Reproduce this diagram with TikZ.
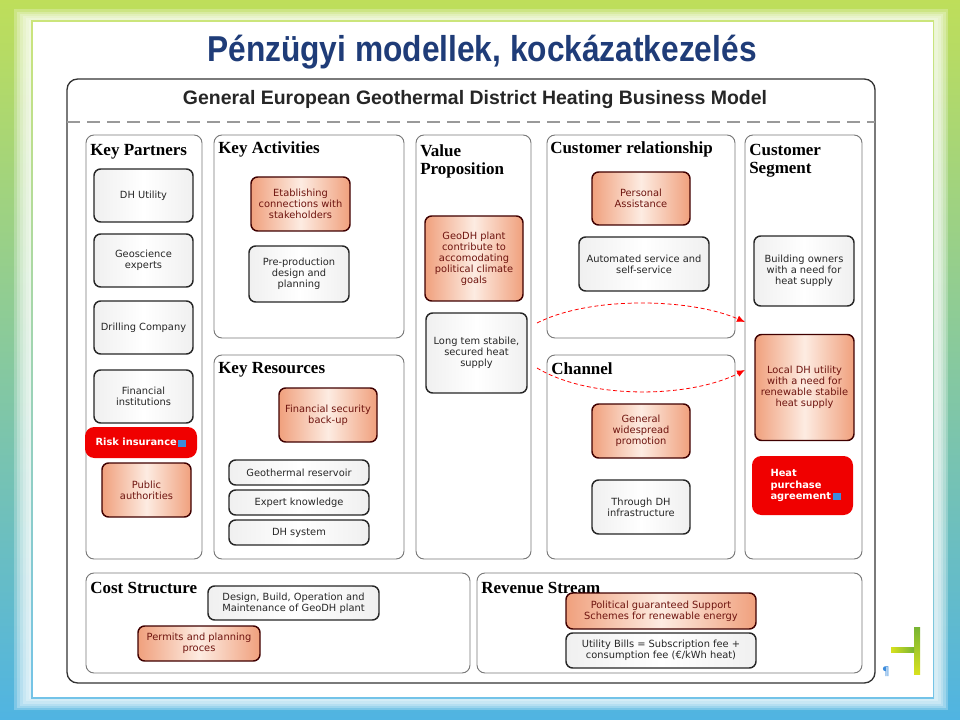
\documentclass[tikz,border=0pt]{standalone}
\usepackage{fontspec}
\setsansfont{DejaVu Sans}
\setmainfont{Liberation Serif}
\newfontfamily\slidefont[FakeStretch=0.88]{Liberation Sans}
\newfontfamily\modelfont{Liberation Sans}
\usetikzlibrary{arrows.meta}

\definecolor{titleblue}{RGB}{31,60,120}
\definecolor{framegreen}{RGB}{190,222,90}
\definecolor{frameblue}{RGB}{80,180,226}
\definecolor{peach}{RGB}{240,160,125}
\definecolor{peachlight}{RGB}{253,236,226}
\definecolor{peachtext}{RGB}{110,20,15}
\definecolor{riskred}{RGB}{240,0,0}
\definecolor{panelgray}{RGB}{120,120,120}
\definecolor{iconblue}{RGB}{60,140,220}
\definecolor{logogreen}{RGB}{120,180,50}
\definecolor{logoyellow}{RGB}{215,225,30}

\newcommand{\boxfont}{\sffamily\fontsize{7.4}{8.3}\selectfont}
\newcommand{\headfont}{\rmfamily\bfseries\fontsize{12.75}{13.5}\selectfont}
\newcommand{\noteicon}{\,\textcolor{iconblue}{\rule[-0.5pt]{6pt}{5pt}}}

\tikzset{
  sz/.style 2 args={minimum width=#1*0.75pt, minimum height=#2*0.75pt},
  panel/.style={draw=panelgray, line width=0.7pt, rounded corners=6pt},
  head/.style={anchor=north west, inner sep=0pt, font=\headfont, align=left},
  plainbox/.style={draw=black!85, line width=1.1pt, rounded corners=5pt, inner sep=1pt,
    font=\boxfont, align=center, text=black!85,
    left color=black!6, right color=black!6, middle color=white},
  hotbox/.style={plainbox, draw=black!75!red,
    left color=peach, right color=peach, middle color=peachlight, text=peachtext},
  alertbox/.style={fill=riskred, draw=none, rounded corners=7pt, inner sep=1pt,
    font=\boxfont\bfseries, text=white, align=left},
  flow/.style={red, line width=0.6pt, densely dashed, -{Latex[length=6pt,width=5pt]}},
}

\begin{document}
\begin{tikzpicture}[x=0.75pt, y=-0.75pt]
\useasboundingbox (0,0) rectangle (960,720);

% Slide frame
\shade[top color=framegreen, bottom color=frameblue] (0,0) rectangle (960,720);
\foreach \f in {0.45,0.55,0.65,0.75,0.85,0.95}
  \fill[white, opacity=0.25] (31*\f,21*\f) rectangle (960-26*\f,720-22*\f);
\shade[top color=framegreen!80, bottom color=frameblue!80] (31,21) rectangle (934,698);
\fill[white] (32.5,22.5) rectangle (932.5,696.5);

\node[font=\slidefont\bfseries\fontsize{27}{30}\selectfont, text=titleblue] (slidetitle) at (482,52) {Pénzügyi modellek, kockázatkezelés};

% Business model canvas
\draw[black!80, line width=1pt, rounded corners=8pt] (67,79) rectangle (875,683);
\draw[black!40, line width=0.8pt, dash pattern=on 9.75pt off 5.25pt] (67,122) -- (875,122);
\node[font=\modelfont\bfseries\fontsize{14.6}{16}\selectfont, text=black!85] (modeltitle) at (475,100) {General European Geothermal District Heating Business Model};

\draw[panel] (86,135) rectangle (202,559);
\draw[panel] (214,135) rectangle (404,338);
\draw[panel] (214,355) rectangle (404,559);
\draw[panel] (416,135) rectangle (531,559);
\draw[panel] (547,135) rectangle (735,338);
\draw[panel] (547,355) rectangle (735,559);
\draw[panel] (745,135) rectangle (862,559);
\draw[panel] (86,573) rectangle (470,673);
\draw[panel] (477,573) rectangle (862,673);

\node[head] (hpartners) at (90,144) {Key Partners};
\node[head] (hactivities) at (218,141) {Key Activities};
\node[head] (hresources) at (218,362) {Key Resources};
\node[head] (hvalue) at (420,144) {Value\\Proposition};
\node[head] (hrelation) at (550,141) {Customer relationship};
\node[head] (hchannel) at (551,362) {Channel};
\node[head] (hsegment) at (749,144) {Customer\\Segment};
\node[head] (hcost) at (90,582) {Cost Structure};
\node[head] (hrevenue) at (481,582) {Revenue Stream};

% Key partners
\node[plainbox, sz={99}{53}] (dhutility) at (143.5,195.5) {DH Utility};
\node[plainbox, sz={99}{53}] (geoscience) at (143.5,260.5) {Geoscience\\experts};
\node[plainbox, sz={99}{53}] (drilling) at (143.5,327.5) {Drilling Company};
\node[plainbox, sz={99}{53}] (financial) at (143.5,396.5) {Financial\\institutions};
\node[alertbox, sz={112}{31}, align=center] (risk) at (141,442.5) {Risk insurance\noteicon};
\node[hotbox, sz={89}{54}] (public) at (146.5,490) {Public\\authorities};

% Key activities and resources
\node[hotbox, sz={99}{54}] (etablishing) at (300.5,204) {Etablishing\\connections with\\stakeholders};
\node[plainbox, sz={100}{56}] (preprod) at (299,274) {Pre-production\\design and\\planning};
\node[hotbox, sz={98}{54}] (backup) at (328,415) {Financial security\\back-up};
\node[plainbox, sz={140}{25}] (reservoir) at (299,472.5) {Geothermal reservoir};
\node[plainbox, sz={140}{25}] (knowledge) at (299,502.5) {Expert knowledge};
\node[plainbox, sz={140}{25}] (dhsystem) at (299,532.5) {DH system};

% Value proposition
\node[hotbox, sz={98}{85}] (climate) at (474,258.5) {GeoDH plant\\contribute to\\accomodating\\political climate\\goals};
\node[plainbox, sz={101}{80}] (stable) at (476.5,353) {Long tem stabile,\\secured heat\\supply};

% Customer relationship and channel
\node[hotbox, sz={98}{53}] (personal) at (641,198.5) {Personal\\Assistance};
\node[plainbox, sz={130}{54}] (automated) at (644,264) {Automated service and\\self-service};
\node[hotbox, sz={98}{54}] (promotion) at (641,431) {General\\widespread\\promotion};
\node[plainbox, sz={98}{54}] (infra) at (641,507) {Through DH\\infrastructure};

% Customer segment
\node[plainbox, sz={100}{70}] (owners) at (804,271) {Building owners\\with a need for\\heat supply};
\node[hotbox, sz={99}{106}] (localdh) at (804.5,387.5) {Local DH utility\\with a need for\\renewable stabile\\heat supply};
\node[alertbox, sz={101}{59}, text width=48pt] (heatpa) at (802.5,485.5) {Heat\\purchase\\agreement\noteicon};

% Cost structure and revenue
\node[plainbox, sz={171}{34}] (dbom) at (293.5,603) {Design, Build, Operation and\\Maintenance of GeoDH plant};
\node[hotbox, sz={122}{35}] (permits) at (199,643.5) {Permits and planning\\proces};
\node[hotbox, sz={190}{36}] (support) at (661,611) {Political guaranteed Support\\Schemes for renewable energy};
\node[plainbox, sz={190}{35}] (bills) at (661,650.5) {Utility Bills = Subscription fee +\\consumption fee (€/kWh heat)};

% Red links
\coordinate (f1s) at (537,323);
\coordinate (f1e) at (745,322);
\draw[flow] (f1s) .. controls (590,296) and (690,298) .. (f1e);
\coordinate (f2s) at (537,368);
\coordinate (f2e) at (745,370);
\draw[flow] (f2s) .. controls (590,400) and (690,398) .. (f2e);

% Logo corner
\shade[top color=logogreen, bottom color=logoyellow] (914,627) rectangle (920,674);
\shade[left color=logoyellow, right color=logogreen] (891,647) rectangle (914,652);
\node[text=iconblue, font=\sffamily\fontsize{9}{9}\selectfont] (pilcrow) at (886,672) {¶};
\end{tikzpicture}
\end{document}
